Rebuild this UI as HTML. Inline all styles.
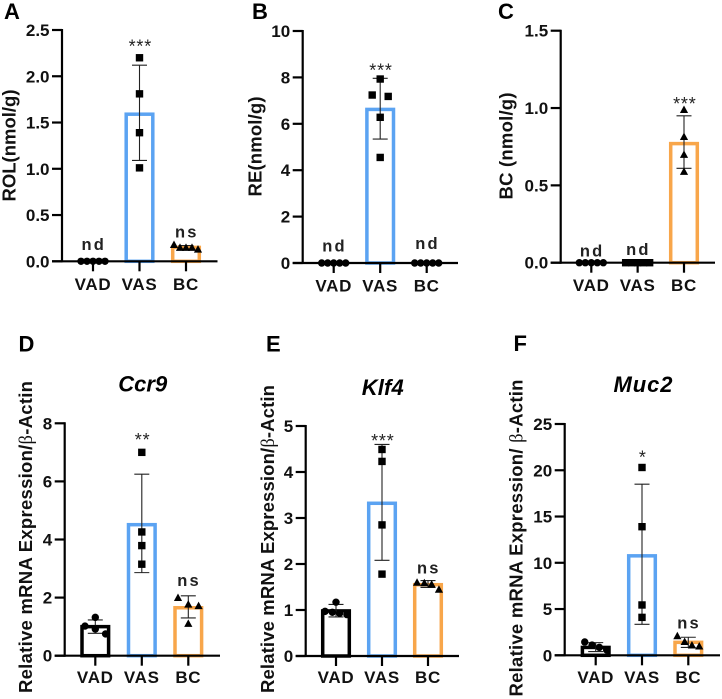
<!DOCTYPE html>
<html>
<head>
<meta charset="utf-8">
<style>
html,body{margin:0;padding:0;background:#fff;}
svg{display:block;font-family:"Liberation Sans",sans-serif;}
</style>
</head>
<body>
<svg id="figure" width="722" height="699" viewBox="0 0 722 699" xmlns="http://www.w3.org/2000/svg"></svg>
<script>
const categories = ['VAD', 'VAS', 'BC'];

const aTicks = [0, 0.5, 1, 1.5, 2, 2.5];
const aTickLabels = ['0.0', '0.5', '1.0', '1.5', '2.0', '2.5'];
const aMeans = [0, 1.59, 0.15];
const aErrHigh = [0, 2.12, 0.17];
const aErrLow = [0, 1.09, 0.13];
const aPoints = [[0, 0, 0, 0, 0], [2.2, 1.81, 1.39, 1.01], [0.18, 0.15, 0.15, 0.15, 0.13]];
const aMarks = ['nd', '***', 'ns'];

const bTicks = [0, 2, 4, 6, 8, 10];
const bTickLabels = ['0', '2', '4', '6', '8', '10'];
const bMeans = [0, 6.62, 0];
const bErrHigh = [0, 7.96, 0];
const bErrLow = [0, 5.34, 0];
const bPoints = [[0, 0, 0, 0, 0], [7.93, 7.24, 7.18, 6.28, 4.55], [0, 0, 0, 0, 0]];
const bMarks = ['nd', '***', 'nd'];

const cTicks = [0, 0.5, 1, 1.5];
const cTickLabels = ['0.0', '0.5', '1.0', '1.5'];
const cMeans = [0, 0, 0.77];
const cErrHigh = [0, 0, 0.95];
const cErrLow = [0, 0, 0.61];
const cPoints = [[0, 0, 0, 0, 0], [0, 0, 0, 0, 0], [0.99, 0.815, 0.7, 0.59]];
const cMarks = ['nd', 'nd', '***'];

const dTicks = [0, 2, 4, 6, 8];
const dTickLabels = ['0', '2', '4', '6', '8'];
const dMeans = [1, 4.51, 1.65];
const dErrHigh = [1.23, 6.25, 2.06];
const dErrLow = [0.77, 2.86, 1.3];
const dPoints = [[1.32, 1.02, 0.92, 0.75], [7, 4.26, 3.79, 3.15], [2, 1.77, 1.72, 1.11]];
const dMarks = ['', '**', 'ns'];

const eTicks = [0, 1, 2, 3, 4, 5];
const eTickLabels = ['0', '1', '2', '3', '4', '5'];
const eMeans = [0.98, 3.32, 1.55];
const eErrHigh = [1.12, 4.6, 1.64];
const eErrLow = [0.85, 2.08, 1.49];
const ePoints = [[1.17, 0.97, 0.95, 0.93, 0.9], [4.49, 4.23, 2.85, 1.78], [1.6, 1.59, 1.56, 1.45]];
const eMarks = ['', '***', 'ns'];

const fTicks = [0, 5, 10, 15, 20, 25];
const fTickLabels = ['0', '5', '10', '15', '20', '25'];
const fMeans = [0.85, 10.75, 1.4];
const fErrHigh = [1.37, 18.5, 1.95];
const fErrLow = [0.4, 3.35, 0.85];
const fPoints = [[1.44, 1.1, 0.86, 0.58], [20.3, 13.9, 5.44, 4.1], [2.1, 1.48, 1.1, 1]];
const fMarks = ['', '*', 'ns'];

const svg = document.getElementById('figure');
const NS = 'http://www.w3.org/2000/svg';
const COLORS = ['#000000', '#5ba3f2', '#f8a64a'];
const SHAPES = ['circle', 'square', 'triangle'];

function mk(tag, parent) {
  const el = document.createElementNS(NS, tag);
  parent.appendChild(el);
  return el;
}
function set(el, props) {
  for (const k in props) el.setAttribute(k, props[k]);
}
function spacingFor(n) {
  if (n <= 2) return 16;
  if (n === 3) return 10.3;
  if (n === 4) return 7.3;
  return 6;
}
function swarm(values, yScale) {
  const offsets = new Array(values.length).fill(0);
  let start = 0;
  for (let i = 1; i <= values.length; i++) {
    if (i === values.length || Math.abs(yScale(values[i]) - yScale(values[i - 1])) > 8) {
      const n = i - start;
      if (n > 1) {
        const s = spacingFor(n);
        for (let j = 0; j < n; j++) offsets[start + j] = (j - (n - 1) / 2) * s;
      }
      start = i;
    }
  }
  return offsets;
}

function drawPanel(p) {
  const g = mk('g', svg);
  
  
  const yMax = p.ticks[p.ticks.length - 1];
  const yScale = v => p.y0 - (v / yMax) * (p.y0 - p.yTop);
  const xScale = i => p.xc[0] + i * (p.xc[2] - p.xc[0]) / 2;

  const letter = mk('text', g);
  
  
  set(letter, { x: p.letterX, y: p.letterY, 'font-size': 22, 'font-weight': 700, fill: '#000' });
  letter.textContent = p.letter;

  if (p.title) {
    const title = mk('text', g);
    
    
    set(title, { x: p.titleX, y: p.titleY, 'font-size': 22, 'font-weight': 700, 'font-style': 'italic', 'text-anchor': 'middle', fill: '#000', textLength: p.titleW, lengthAdjust: 'spacing' });
    title.textContent = p.title;
  }

  const yt = mk('text', g);
  
  
  set(yt, { transform: 'translate(' + p.ytX + ',' + p.ytY + ') rotate(-90)', 'font-size': p.ytSize, 'font-weight': 700, 'text-anchor': 'middle', fill: '#111', textLength: p.ytW, lengthAdjust: 'spacing' });
  if (p.ytParts) {
    const a = mk('tspan', yt);
    a.textContent = p.ytParts[0];
    const b = mk('tspan', yt);
    set(b, { 'font-family': '"Liberation Serif", serif', 'font-weight': 400 });
    b.textContent = 'β';
    const c = mk('tspan', yt);
    c.textContent = p.ytParts[1];
  } else {
    yt.textContent = p.yTitle;
  }

  p.means.forEach((m, i) => {
    if (m <= 0) return;
    const bar = mk('rect', g);
    
    
    set(bar, { x: xScale(i) - 13.3, y: yScale(m), width: 26.6, height: p.y0 - yScale(m), fill: '#fff', stroke: COLORS[i], 'stroke-width': 3.5 });
  });

  const yAxis = mk('line', g);
  
  
  set(yAxis, { x1: p.axisX, x2: p.axisX, y1: p.yTop - 1, y2: p.y0 + 1, stroke: '#000', 'stroke-width': 2.2 });

  const xAxis = mk('line', g);
  
  
  set(xAxis, { x1: p.axisX - 10, x2: p.xEnd, y1: p.y0, y2: p.y0, stroke: '#000', 'stroke-width': 2.2 });

  p.ticks.forEach((t, i) => {
    const tick = mk('line', g);
    
    
    set(tick, { x1: p.axisX - 10, x2: p.axisX, y1: yScale(t), y2: yScale(t), stroke: '#000', 'stroke-width': 2.2 });
    const lab = mk('text', g);
    
    
    set(lab, { x: p.axisX - 12.5, y: yScale(t) + 6, 'font-size': 17, 'font-weight': 700, 'text-anchor': 'end', fill: '#111' });
    lab.textContent = p.tickLabels[i];
  });

  categories.forEach((c, i) => {
    const tick = mk('line', g);
    
    
    set(tick, { x1: xScale(i), x2: xScale(i), y1: p.y0, y2: p.y0 + 10, stroke: '#000', 'stroke-width': 2.2 });
    const lab = mk('text', g);
    
    
    set(lab, { x: xScale(i), y: p.xlY, 'font-size': 17, 'font-weight': 700, 'text-anchor': 'middle', 'letter-spacing': '0.7', fill: '#111' });
    lab.textContent = c;
  });

  p.means.forEach((m, i) => {
    if (p.hi[i] <= p.lo[i]) return;
    const x = xScale(i);
    const eb = mk('path', g);
    
    
    const yh = yScale(p.hi[i]);
    const yl = yScale(p.lo[i]);
    set(eb, { d: 'M' + (x - 7.5) + ' ' + yh + 'H' + (x + 7.5) + 'M' + x + ' ' + yh + 'V' + yl + 'M' + (x - 7.5) + ' ' + yl + 'H' + (x + 7.5), fill: 'none', stroke: '#222', 'stroke-width': 1.1 });
  });

  p.points.forEach((vals, i) => {
    const offs = swarm(vals, yScale);
    vals.forEach((v, j) => {
      const x = xScale(i) + offs[j];
      const y = yScale(v);
      const shape = p.shapes ? p.shapes[i] : SHAPES[i];
      let mark;
      if (shape === 'circle') {
        mark = mk('circle', g);
        set(mark, { cx: x, cy: y, r: 3.7 });
      } else if (shape === 'square') {
        mark = mk('rect', g);
        set(mark, { x: x - 3.7, y: y - 3.7, width: 7.4, height: 7.4 });
      } else {
        mark = mk('polygon', g);
        set(mark, { points: (x - 4.1) + ',' + (y + 3.4) + ' ' + (x + 4.1) + ',' + (y + 3.4) + ' ' + x + ',' + (y - 4.1) });
      }
      
      
      mark.setAttribute('fill', '#000');
    });
  });

  p.marks.forEach((txt, i) => {
    if (!txt) return;
    const top = Math.min(yScale(p.hi[i]), yScale(p.means[i]), ...p.points[i].map(yScale));
    const cy = top - p.gaps[i];
    const star = txt[0] === '*';
    const lab = mk('text', g);
    
    
    set(lab, {
      x: xScale(i) + 0.8,
      y: star ? cy + 10.5 : cy + 5,
      'font-size': star ? 18 : 16.5,
      'font-weight': star ? 400 : 700,
      'text-anchor': 'middle',
      'letter-spacing': star ? '0.8' : '2.2',
      fill: '#222'
    });
    lab.textContent = txt;
  });
}

const panels = [
  { letter: 'A', letterX: 4, letterY: 19, axisX: 62, y0: 261.3, yTop: 30, xEnd: 217.5, xc: [93, 139.7, 186], xlY: 290,
    yTitle: 'ROL(nmol/g)', ytX: 15.5, ytY: 145.5, ytSize: 18.5, ytW: 112,
    ticks: aTicks, tickLabels: aTickLabels, means: aMeans, hi: aErrHigh, lo: aErrLow, points: aPoints, marks: aMarks, gaps: [16.3, 16, 12.3] },
  { letter: 'B', letterX: 252, letterY: 19, axisX: 302.7, y0: 263, yTop: 31, xEnd: 458, xc: [333.7, 380, 426.7], xlY: 291.5,
    yTitle: 'RE(nmol/g)', ytX: 261.5, ytY: 146.5, ytSize: 18.5, ytW: 100,
    shapes: ['circle', 'square', 'circle'],
    ticks: bTicks, tickLabels: bTickLabels, means: bMeans, hi: bErrHigh, lo: bErrLow, points: bPoints, marks: bMarks, gaps: [16.3, 12.3, 19] },
  { letter: 'C', letterX: 498, letterY: 19, axisX: 560.7, y0: 262.7, yTop: 30.7, xEnd: 715, xc: [591.3, 637.8, 684], xlY: 291,
    yTitle: 'BC (nmol/g)', ytX: 512.5, ytY: 146, ytSize: 18.5, ytW: 107,
    ticks: cTicks, tickLabels: cTickLabels, means: cMeans, hi: cErrHigh, lo: cErrLow, points: cPoints, marks: cMarks, gaps: [11, 12.7, 10] },
  { letter: 'D', letterX: 18.5, letterY: 351.5, axisX: 64.7, y0: 655.7, yTop: 423.3, xEnd: 220, xc: [95.3, 141.7, 188.3], xlY: 683,
    title: 'Ccr9', titleX: 142.7, titleY: 391.5, titleW: 49,
    ytParts: ['Relative mRNA Expression/', '-Actin'], ytX: 32, ytY: 537, ytSize: 18.5, ytW: 312,
    ticks: dTicks, tickLabels: dTickLabels, means: dMeans, hi: dErrHigh, lo: dErrLow, points: dPoints, marks: dMarks, gaps: [0, 17, 15] },
  { letter: 'E', letterX: 266, letterY: 351.5, axisX: 305.7, y0: 656, yTop: 426, xEnd: 459, xc: [336, 382, 428], xlY: 683,
    title: 'Klf4', titleX: 382.7, titleY: 395, titleW: 42,
    ytParts: ['Relative mRNA Expression/', '-Actin'], ytX: 274, ytY: 539, ytSize: 18.5, ytW: 308,
    ticks: eTicks, tickLabels: eTickLabels, means: eMeans, hi: eErrHigh, lo: eErrLow, points: ePoints, marks: eMarks, gaps: [0, 7.7, 12.3] },
  { letter: 'F', letterX: 513.5, letterY: 351, axisX: 564.7, y0: 655.3, yTop: 424, xEnd: 720, xc: [595.7, 642, 688.3], xlY: 683,
    title: 'Muc2', titleX: 643, titleY: 392, titleW: 59,
    ytParts: ['Relative mRNA Expression/ ', '-Actin'], ytX: 522.5, ytY: 538, ytSize: 18.5, ytW: 317,
    ticks: fTicks, tickLabels: fTickLabels, means: fMeans, hi: fErrHigh, lo: fErrLow, points: fPoints, marks: fMarks, gaps: [0, 14.3, 12.3] }
];

panels.forEach(drawPanel);
</script>
</body>
</html>
